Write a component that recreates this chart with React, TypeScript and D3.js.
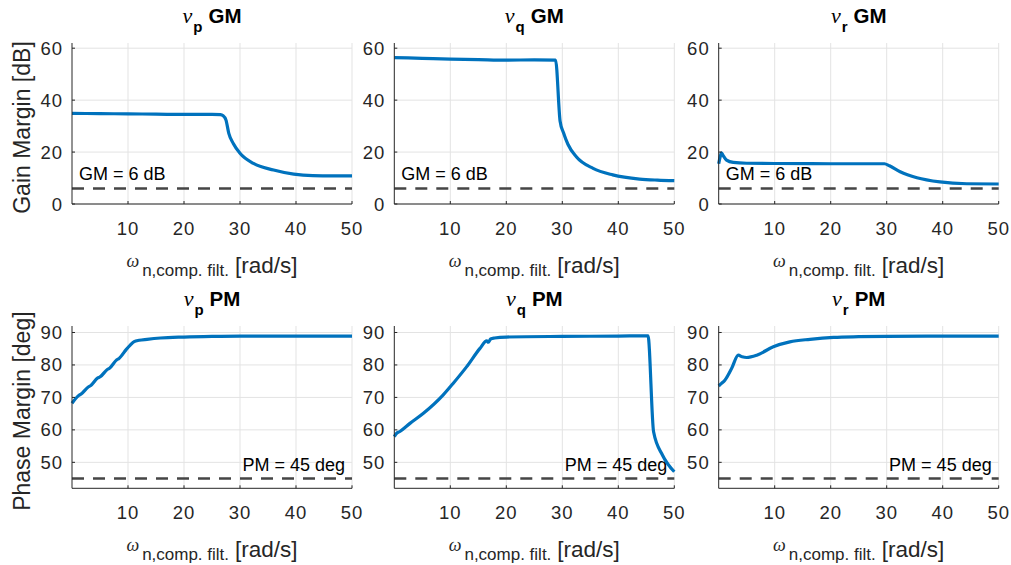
import React from 'react';
import * as d3 from 'd3';

// ---- tick labels ----
const xTicks = [10, 20, 30, 40, 50];
const gmTicks = [0, 20, 40, 60];
const pmTicks = [50, 60, 70, 80, 90];

// ---- series (omega_n [rad/s] vs margin) ----
const nuPGmW = [0, 5, 10, 15, 20, 25, 26.5, 27, 27.5, 28, 28.8, 30, 32.4, 36, 39.6, 43, 46.5, 50];
const nuPGmV = [34.9, 34.8, 34.7, 34.6, 34.5, 34.5, 34.4, 34.0, 32.3, 27.2, 23.3, 19.5, 15.6, 13.1, 11.5, 10.9, 10.8, 10.8];

const nuQGmW = [0, 5, 10, 15, 20, 25, 28.8, 29.6, 30.2, 31, 32.5, 35.5, 39, 43.8, 47, 50];
const nuQGmV = [56.4, 56.1, 55.8, 55.6, 55.4, 55.5, 55.4, 32.0, 27.5, 23.0, 18.2, 13.7, 11.2, 9.6, 9.2, 9.0];

const nuRGmW = [0, 0.3, 0.5, 0.8, 1.4, 2.6, 5, 10, 20, 29.6, 30.5, 32.4, 35.4, 39.5, 44.3, 50];
const nuRGmV = [15.5, 18.5, 19.7, 18.6, 16.9, 16.0, 15.7, 15.6, 15.5, 15.5, 14.7, 12.4, 10.1, 8.5, 7.8, 7.7];

const nuPPmW = [0, 1.2, 1.6, 2.9, 3.3, 4.6, 5.0, 6.3, 6.7, 8.0, 8.4, 9.7, 10.4, 11.1, 12, 13.4, 15.8, 20, 25, 30, 50];
const nuPPmV = [68.2, 70.6, 71.0, 73.2, 73.6, 76.0, 76.3, 78.6, 79.0, 81.6, 82.0, 84.8, 86.1, 87.2, 87.6, 87.9, 88.3, 88.6, 88.8, 88.9, 88.9];

const nuQPmW = [0, 0.4, 1, 2.8, 5.2, 8.7, 10.5, 12.9, 15.3, 16.5, 16.8, 17.2, 17.9, 20, 30, 40, 45.3, 46.3, 47.9, 50];
const nuQPmV = [57.9, 58.9, 59.5, 62.0, 65.1, 70.7, 74.3, 79.4, 85.1, 87.4, 87.0, 88.0, 88.3, 88.6, 88.8, 88.9, 89.0, 59.4, 52.2, 47.1];

const nuRPmW = [0, 0.5, 1.1, 2.3, 3.5, 4.2, 5, 6.8, 9.75, 12.7, 16.3, 20.5, 25, 30, 40, 50];
const nuRPmV = [73.5, 74.3, 75.3, 78.9, 83.0, 82.5, 82.3, 83.0, 85.6, 87.1, 87.9, 88.5, 88.7, 88.8, 88.9, 88.9];

const subscripts = ['p', 'q', 'r'];
const gmLimit = 6;
const pmLimit = 45;

const FONT = "'Liberation Sans', Arial, Helvetica, sans-serif";
const SERIF = "'Liberation Serif', 'Times New Roman', serif";
const AX = '#262626';
const BLUE = '#0072BD';

const colLeft = [72, 394.3, 718.7];
const plotW = 280;
const rows = [
  { top: 43, bottom: 204 },
  { top: 326, bottom: 488.3 },
];

type Panel = {
  row: number; col: number; w: number[]; v: number[];
  kind: 'GM' | 'PM';
};

const panels: Panel[] = [
  { row: 0, col: 0, w: nuPGmW, v: nuPGmV, kind: 'GM' },
  { row: 0, col: 1, w: nuQGmW, v: nuQGmV, kind: 'GM' },
  { row: 0, col: 2, w: nuRGmW, v: nuRGmV, kind: 'GM' },
  { row: 1, col: 0, w: nuPPmW, v: nuPPmV, kind: 'PM' },
  { row: 1, col: 1, w: nuQPmW, v: nuQPmV, kind: 'PM' },
  { row: 1, col: 2, w: nuRPmW, v: nuRPmV, kind: 'PM' },
];

function PanelView({ p }: { p: Panel }) {
  const left = colLeft[p.col];
  const right = left + plotW;
  const { top, bottom } = rows[p.row];
  const x = d3.scaleLinear().domain([0, 50]).range([left, right]);
  const y = p.kind === 'GM'
    ? d3.scaleLinear().domain([0, 62]).range([bottom, top])
    : d3.scaleLinear().domain([42, 92]).range([bottom, top]);
  const yTicks = p.kind === 'GM' ? gmTicks : pmTicks;
  const pts = p.w.map((w, i) => [w, p.v[i]] as [number, number]);
  const line = d3.line<[number, number]>()
    .x(d => x(d[0])).y(d => y(d[1]))
    .curve(d3.curveMonotoneX);
  const limit = p.kind === 'GM' ? gmLimit : pmLimit;
  const cx = (left + right) / 2;
  const clipId = `clip-${p.row}-${p.col}`;

  return (
    <g>
      <defs>
        <clipPath id={clipId}>
          <rect x={left - 2} y={top - 2} width={plotW + 4} height={bottom - top + 4} />
        </clipPath>
      </defs>
      {xTicks.map(t => (
        <line key={'gx' + t} x1={x(t)} x2={x(t)} y1={top} y2={bottom} stroke="#e3e3e3" strokeWidth={1} />
      ))}
      {yTicks.map(t => (
        <line key={'gy' + t} x1={left} x2={right} y1={y(t)} y2={y(t)} stroke="#e3e3e3" strokeWidth={1} />
      ))}
      <line x1={x(0)} x2={x(50)} y1={y(limit)} y2={y(limit)} stroke="#454545" strokeWidth={2.5} strokeDasharray="12,9" />
      {p.kind === 'GM' ? (
        <text x={left + 7} y={y(limit) - 8} fontFamily={FONT} fontSize={18} fill="#000">GM = 6 dB</text>
      ) : (
        <text x={right - 7} y={y(limit) - 8} fontFamily={FONT} fontSize={18} fill="#000" textAnchor="end">PM = 45 deg</text>
      )}
      <path d={line(pts) || ''} fill="none" stroke={BLUE} strokeWidth={3.2} strokeLinejoin="round" clipPath={`url(#${clipId})`} />
      <line x1={left} x2={left} y1={top} y2={bottom} stroke={AX} strokeWidth={1} />
      <line x1={left} x2={right} y1={bottom} y2={bottom} stroke={AX} strokeWidth={1} />
      {xTicks.map(t => (
        <g key={'tx' + t}>
          <line x1={x(t)} x2={x(t)} y1={bottom} y2={bottom - 3} stroke={AX} strokeWidth={1} />
          <text x={x(t)} y={bottom + 31} textAnchor="middle" fontFamily={FONT} fontSize={18.5} letterSpacing={1} fill={AX}>{t}</text>
        </g>
      ))}
      {yTicks.map(t => (
        <g key={'ty' + t}>
          <line x1={left} x2={left + 3} y1={y(t)} y2={y(t)} stroke={AX} strokeWidth={1} />
          <text x={left - 9} y={y(t) + 6.5} textAnchor="end" fontFamily={FONT} fontSize={18.5} letterSpacing={1} fill={AX}>{t}</text>
        </g>
      ))}
      <text x={cx} y={top - 20} textAnchor="middle" fill="#000">
        <tspan fontFamily={SERIF} fontStyle="italic" fontSize={22}>ν</tspan>
        <tspan fontFamily={FONT} fontWeight="bold" fontSize={15} dy={9} dx={1}>{subscripts[p.col]}</tspan>
        <tspan fontFamily={FONT} fontWeight="bold" fontSize={20.5} dy={-9} dx={6}>{p.kind}</tspan>
      </text>
      <text x={cx} y={bottom + 69} textAnchor="middle" fill={AX} fontFamily={FONT}>
        <tspan fontFamily={SERIF} fontStyle="italic" fontSize={18} dy={-6}>ω</tspan>
        <tspan fontSize={17} dy={9} dx={3}>n,comp. filt.</tspan>
        <tspan fontSize={22.5} dy={-3} dx={6}>[rad/s]</tspan>
      </text>
      {p.col === 0 && (
        <text transform={`translate(30,${(top + bottom) / 2 + 4}) rotate(-90)`} textAnchor="middle"
          fontFamily={FONT} fontSize={23} fill={AX}>
          {p.kind === 'GM' ? 'Gain Margin [dB]' : 'Phase Margin [deg]'}
        </text>
      )}
    </g>
  );
}

export default function App() {
  return (
    <svg width={1011} height={565} style={{ display: 'block', position: 'absolute', left: 0, top: 0, background: '#fff' }}>
      <rect width={1011} height={565} fill="#fff" />
      {panels.map((p, i) => <PanelView key={i} p={p} />)}
    </svg>
  );
}
